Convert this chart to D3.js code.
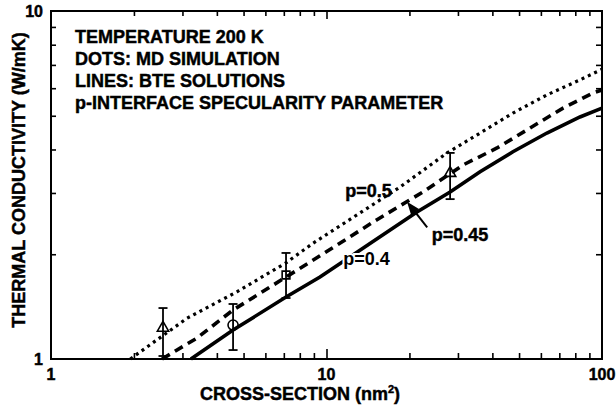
<!DOCTYPE html>
<html>
<head>
<meta charset="utf-8">
<script src="https://cdn.jsdelivr.net/npm/d3@7"></script>
<style>
  body { margin: 0; background: #fff; }
  svg text { font-family: "Liberation Sans", Arial, Helvetica, sans-serif; font-weight: bold; fill: #000; stroke: #000; stroke-width: 0.45px; }
</style>
</head>
<body>
<div id="chart"></div>
<script>
// BTE curves (cross-section nm^2, W/mK)
const p05X = [1.94, 3.12, 4.73, 7.13, 8.93, 18.5, 27.4, 36.1, 47.5, 63.1, 83.2, 100]
const p05Y = [1.0, 1.31, 1.56, 1.89, 2.15, 3.12, 3.91, 4.46, 5.09, 5.74, 6.34, 6.80]
const p045X = [2.53, 3.39, 4.58, 6.24, 9.47, 15.2, 22.4, 31.3, 41.6, 54.8, 72.2, 92.7, 100]
const p045Y = [1.0, 1.149, 1.383, 1.61, 1.98, 2.51, 3.02, 3.61, 4.04, 4.61, 5.26, 5.81, 5.93]
const p04X = [3.22, 4.58, 7.13, 9.47, 21.3, 28.1, 36.1, 47.5, 63.1, 83.2, 100]
const p04Y = [1.0, 1.211, 1.507, 1.72, 2.645, 3.02, 3.45, 3.94, 4.46, 4.96, 5.26]

// MD points with error bars
const mdX = [2.55, 4.58, 7.13, 28.1]
const mdY = [1.228, 1.252, 1.743, 3.42]
const mdLow = [1.02, 1.061, 1.497, 2.88]
const mdHigh = [1.401, 1.439, 2.017, 3.91]
const mdShape = ['triangle', 'circle', 'square', 'triangle']

const xMinor = [2, 3, 4, 5, 6, 7, 8, 9, 20, 30, 40, 50, 60, 70, 80, 90]
const yMinor = [2, 3, 4, 5, 6, 7, 8, 9]
const xLabels = [1, 10, 100]
const yLabels = [1, 10]

const notes = ['TEMPERATURE 200 K', 'DOTS: MD SIMULATION', 'LINES: BTE SOLUTIONS', 'p-INTERFACE SPECULARITY PARAMETER']

const width = 616, height = 411
let margin = ({top: 11, right: 14, bottom: 52, left: 51})

const svg = d3.select('#chart').append('svg')
    .attr('width', width)
    .attr('height', height)

let xScale = d3.scaleLog()
    .domain([1, 100])
    .range([margin.left, width - margin.right])
let yScale = d3.scaleLog()
    .domain([1, 10])
    .range([height - margin.bottom, margin.top])

const x0 = xScale.range()[0], x1 = xScale.range()[1]
const y0 = yScale.range()[0], y1 = yScale.range()[1]

// ticks, pointing inward on all four sides
function tickAxis(axis, values, size, tx, ty) {
    const g = svg.append('g')
        .attr('transform', `translate(${tx},${ty})`)
        .call(axis.tickValues(values).tickSize(size).tickFormat(''))
    g.select('.domain').remove()
    g.selectAll('line').attr('stroke', '#000').attr('stroke-width', 1.6)
}
tickAxis(d3.axisBottom(xScale), xMinor, -6, 0, y0)
tickAxis(d3.axisBottom(xScale), [10], -10, 0, y0)
tickAxis(d3.axisTop(xScale), xMinor, -5, 0, y1)
tickAxis(d3.axisTop(xScale), [10], -8, 0, y1)
tickAxis(d3.axisLeft(yScale), yMinor, -5, x0, 0)
tickAxis(d3.axisRight(yScale), yMinor, -6, x1, 0)

svg.append('rect')
    .attr('x', x0).attr('y', y1)
    .attr('width', x1 - x0).attr('height', y0 - y1)
    .attr('fill', 'none')
    .attr('stroke', '#000')
    .attr('stroke-width', 2)

svg.selectAll('.xlab').data(xLabels).enter().append('text')
    .attr('x', d => xScale(d))
    .attr('y', y0 + 21)
    .attr('text-anchor', 'middle')
    .style('font-size', '16px')
    .text(d => d)
svg.selectAll('.ylab').data(yLabels).enter().append('text')
    .attr('x', x0 - 8)
    .attr('y', d => yScale(d) + 6)
    .attr('text-anchor', 'end')
    .style('font-size', '16px')
    .text(d => d)

// axis titles
const xt = svg.append('text')
    .attr('x', 300).attr('y', 400)
    .attr('text-anchor', 'middle')
    .style('font-size', '18px')
xt.append('tspan').text('CROSS-SECTION (nm')
xt.append('tspan').attr('dy', -7).style('font-size', '11px').text('2')
xt.append('tspan').attr('dy', 7).text(')')

svg.append('text')
    .attr('transform', 'translate(25,180) rotate(-90)')
    .attr('text-anchor', 'middle')
    .style('font-size', '18px')
    .text('THERMAL CONDUCTIVITY (W/mK)')

// BTE lines
const line = d3.line()
    .x(d => xScale(d[0]))
    .y(d => yScale(d[1]))

function drawCurve(xs, ys, width, dash) {
    svg.append('path')
        .datum(d3.zip(xs, ys))
        .attr('fill', 'none')
        .attr('stroke', '#000')
        .attr('stroke-width', width)
        .attr('stroke-dasharray', dash)
        .attr('d', line)
}
drawCurve(p05X, p05Y, 3.2, '3,4')
drawCurve(p045X, p045Y, 3.6, '9,6')
drawCurve(p04X, p04Y, 3.6, null)

// MD points
const md = d3.range(mdX.length).map(i => ({x: mdX[i], y: mdY[i], lo: mdLow[i], hi: mdHigh[i], shape: mdShape[i]}))
const g = svg.selectAll('.md').data(md).enter().append('g')
g.append('line')
    .attr('x1', d => xScale(d.x)).attr('x2', d => xScale(d.x))
    .attr('y1', d => yScale(d.lo)).attr('y2', d => yScale(d.hi))
    .attr('stroke', '#000').attr('stroke-width', 1.8)
g.append('line')
    .attr('x1', d => xScale(d.x) - 4.5).attr('x2', d => xScale(d.x) + 4.5)
    .attr('y1', d => yScale(d.hi)).attr('y2', d => yScale(d.hi))
    .attr('stroke', '#000').attr('stroke-width', 1.8)
g.append('line')
    .attr('x1', d => xScale(d.x) - 4.5).attr('x2', d => xScale(d.x) + 4.5)
    .attr('y1', d => yScale(d.lo)).attr('y2', d => yScale(d.lo))
    .attr('stroke', '#000').attr('stroke-width', 1.8)
const symbolType = {triangle: d3.symbolTriangle, circle: d3.symbolCircle, square: d3.symbolSquare}
const symbolSize = {triangle: 55, circle: 80, square: 60}
g.append('path')
    .attr('transform', d => `translate(${xScale(d.x)},${yScale(d.y)})`)
    .attr('d', d => d3.symbol().type(symbolType[d.shape]).size(symbolSize[d.shape])())
    .attr('fill', 'none')
    .attr('stroke', '#000')
    .attr('stroke-width', 1.6)

// notes
svg.selectAll('.note').data(notes).enter().append('text')
    .attr('x', 75)
    .attr('y', (d, i) => 43 + i * 22)
    .style('font-size', '18px')
    .text(d => d)

// curve labels (positions in data units)
const labels = [
    {t: 'p=0.5', x: 11.7, y: 2.92},
    {t: 'p=0.45', x: 24.1, y: 2.18},
    {t: 'p=0.4', x: 11.5, y: 1.86}
]
svg.selectAll('.plab').data(labels).enter().append('text')
    .attr('x', d => xScale(d.x))
    .attr('y', d => yScale(d.y))
    .style('font-size', '18px')
    .style('stroke', d => d.t === 'p=0.4' ? '#fff' : '#000')
    .style('stroke-width', d => d.t === 'p=0.4' ? '4px' : '0.45px')
    .attr('paint-order', 'stroke')
    .text(d => d.t)

// arrow to the p=0.45 curve
const tail = [xScale(23.2), yScale(2.39)], tip = [xScale(19.6), yScale(2.83)]
const ang = Math.atan2(tip[1] - tail[1], tip[0] - tail[0])
const hl = 13, hw = 5
svg.append('line')
    .attr('x1', tail[0]).attr('y1', tail[1])
    .attr('x2', tip[0] - Math.cos(ang) * hl * 0.8).attr('y2', tip[1] - Math.sin(ang) * hl * 0.8)
    .attr('stroke', '#000').attr('stroke-width', 2)
const bx = tip[0] - Math.cos(ang) * hl, by = tip[1] - Math.sin(ang) * hl
svg.append('path')
    .attr('d', `M${tip[0]},${tip[1]}L${bx - Math.sin(ang) * hw},${by + Math.cos(ang) * hw}L${bx + Math.sin(ang) * hw},${by - Math.cos(ang) * hw}Z`)
    .attr('fill', '#000')
</script>
</body>
</html>
